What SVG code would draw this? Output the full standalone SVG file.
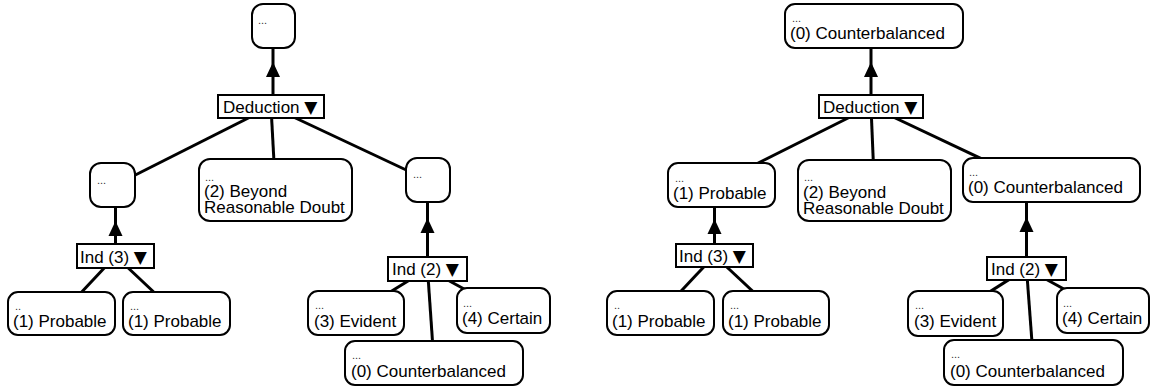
<svg xmlns="http://www.w3.org/2000/svg" xmlns:xlink="http://www.w3.org/1999/xlink" width="1150" height="387" viewBox="0 0 1150 387">
  <style>
    .edge { stroke: #000; stroke-width: 3; fill: none; }
    .node { fill: #fff; stroke: #000; stroke-width: 2; }
    .rule { fill: #fff; stroke: #000; stroke-width: 2; }
    .lbl { font-family: "Liberation Sans", Arial, sans-serif; font-size: 17px; fill: #000; }
    .dots { font-family: "Liberation Sans", Arial, sans-serif; font-size: 11px; fill: #333; }
    .tri { font-family: "DejaVu Sans", sans-serif; font-size: 17px; }
  </style>
  <defs>
    <!-- upward arrowhead, tip at origin -->
    <path id="ah" d="M0,0 L7,15 L-7,15 Z" fill="#000"/>
  </defs>
  <rect width="1150" height="387" fill="#fff"/>

  <!-- connectors -->
  <g id="connectors">
    <!-- left tree -->
    <line class="edge" x1="273" y1="48" x2="273" y2="95"/>
    <use xlink:href="#ah" x="273" y="62"/>
    <line class="edge" x1="271" y1="106.5" x2="115.5" y2="185"/>
    <line class="edge" x1="271" y1="106.5" x2="275.5" y2="190"/>
    <line class="edge" x1="271" y1="106.5" x2="427.5" y2="180"/>
    <line class="edge" x1="115.5" y1="207" x2="115.5" y2="244"/>
    <use xlink:href="#ah" x="115.5" y="221"/>
    <line class="edge" x1="115.5" y1="256" x2="61.5" y2="313.5"/>
    <line class="edge" x1="115.5" y1="256" x2="176.5" y2="313.5"/>
    <line class="edge" x1="427.5" y1="202" x2="427.5" y2="257"/>
    <use xlink:href="#ah" x="427.5" y="218"/>
    <line class="edge" x1="427.5" y1="269" x2="356" y2="313"/>
    <line class="edge" x1="427.5" y1="269" x2="434" y2="363"/>
    <line class="edge" x1="427.5" y1="269" x2="503.5" y2="310.5"/>
    <!-- right tree -->
    <line class="edge" x1="871" y1="48" x2="871" y2="95"/>
    <use xlink:href="#ah" x="871" y="62"/>
    <line class="edge" x1="871" y1="106.5" x2="714.5" y2="185"/>
    <line class="edge" x1="871" y1="106.5" x2="874.5" y2="190.5"/>
    <line class="edge" x1="871" y1="106.5" x2="1026.5" y2="180"/>
    <line class="edge" x1="714.5" y1="207" x2="714.5" y2="244"/>
    <use xlink:href="#ah" x="714.5" y="219"/>
    <line class="edge" x1="714.5" y1="255.5" x2="660.5" y2="313"/>
    <line class="edge" x1="714.5" y1="255.5" x2="776" y2="313"/>
    <line class="edge" x1="1026.5" y1="202" x2="1026.5" y2="257"/>
    <use xlink:href="#ah" x="1026.5" y="217"/>
    <line class="edge" x1="1026.5" y1="268.5" x2="955.5" y2="313.5"/>
    <line class="edge" x1="1026.5" y1="268.5" x2="1033.5" y2="362.5"/>
    <line class="edge" x1="1026.5" y1="268.5" x2="1103" y2="310.5"/>
  </g>

  <!-- left tree nodes -->
  <g id="l-root">
    <rect class="node" x="252" y="4" width="43" height="44" rx="11"/>
    <text class="dots" x="258" y="24">...</text>
  </g>
  <g id="l-deduction">
    <rect class="rule" x="218" y="95" width="106" height="23"/>
    <text class="lbl" x="223" y="113">Deduction <tspan class="tri">▼</tspan></text>
  </g>
  <g id="l-left">
    <rect class="node" x="90" y="163" width="45" height="44" rx="11"/>
    <text class="dots" x="97" y="184">...</text>
  </g>
  <g id="l-beyond">
    <rect class="node" x="199" y="159" width="153" height="62" rx="11"/>
    <text class="dots" x="205" y="181">...</text>
    <text class="lbl" x="204" y="197">(2) Beyond<tspan x="204" dy="16">Reasonable Doubt</tspan></text>
  </g>
  <g id="l-right">
    <rect class="node" x="406" y="158" width="44" height="44" rx="11"/>
    <text class="dots" x="413" y="178">...</text>
  </g>
  <g id="l-ind3">
    <rect class="rule" x="77" y="244" width="77" height="24"/>
    <text class="lbl" x="80" y="263">Ind (3) <tspan class="tri">▼</tspan></text>
  </g>
  <g id="l-prob1">
    <rect class="node" x="8" y="292" width="107" height="43" rx="10"/>
    <text class="dots" x="15" y="310">..</text>
    <text class="lbl" x="13" y="327">(1) Probable</text>
  </g>
  <g id="l-prob2">
    <rect class="node" x="123" y="292" width="107" height="43" rx="10"/>
    <text class="dots" x="130" y="310">...</text>
    <text class="lbl" x="128" y="327">(1) Probable</text>
  </g>
  <g id="l-ind2">
    <rect class="rule" x="388" y="257" width="79" height="24"/>
    <text class="lbl" x="392" y="275">Ind (2) <tspan class="tri">▼</tspan></text>
  </g>
  <g id="l-evident">
    <rect class="node" x="308" y="291" width="96" height="44" rx="10"/>
    <text class="dots" x="315" y="309">...</text>
    <text class="lbl" x="314" y="327">(3) Evident</text>
  </g>
  <g id="l-certain">
    <rect class="node" x="457" y="288" width="93" height="45" rx="10"/>
    <text class="dots" x="463" y="307">...</text>
    <text class="lbl" x="462" y="324">(4) Certain</text>
  </g>
  <g id="l-counter">
    <rect class="node" x="345" y="341" width="178" height="44" rx="10"/>
    <text class="dots" x="352" y="359">...</text>
    <text class="lbl" x="351" y="377">(0) Counterbalanced</text>
  </g>

  <!-- right tree nodes -->
  <g id="r-root">
    <rect class="node" x="785" y="4" width="178" height="44" rx="10"/>
    <text class="dots" x="792" y="22">...</text>
    <text class="lbl" x="790" y="39">(0) Counterbalanced</text>
  </g>
  <g id="r-deduction">
    <rect class="rule" x="819" y="95" width="104" height="23"/>
    <text class="lbl" x="823" y="113">Deduction <tspan class="tri">▼</tspan></text>
  </g>
  <g id="r-left">
    <rect class="node" x="668" y="163" width="107" height="44" rx="10"/>
    <text class="dots" x="675" y="182">...</text>
    <text class="lbl" x="673" y="199">(1) Probable</text>
  </g>
  <g id="r-beyond">
    <rect class="node" x="798" y="160" width="153" height="61" rx="11"/>
    <text class="dots" x="804" y="181">...</text>
    <text class="lbl" x="803" y="198">(2) Beyond<tspan x="803" dy="16">Reasonable Doubt</tspan></text>
  </g>
  <g id="r-right">
    <rect class="node" x="963" y="158" width="177" height="44" rx="10"/>
    <text class="dots" x="969" y="176">...</text>
    <text class="lbl" x="968" y="193">(0) Counterbalanced</text>
  </g>
  <g id="r-ind3">
    <rect class="rule" x="676" y="244" width="77" height="23"/>
    <text class="lbl" x="679" y="262">Ind (3) <tspan class="tri">▼</tspan></text>
  </g>
  <g id="r-prob1">
    <rect class="node" x="607" y="291" width="107" height="44" rx="10"/>
    <text class="dots" x="614" y="309">..</text>
    <text class="lbl" x="612" y="327">(1) Probable</text>
  </g>
  <g id="r-prob2">
    <rect class="node" x="723" y="291" width="106" height="44" rx="10"/>
    <text class="dots" x="730" y="309">...</text>
    <text class="lbl" x="728" y="327">(1) Probable</text>
  </g>
  <g id="r-ind2">
    <rect class="rule" x="987" y="257" width="79" height="23"/>
    <text class="lbl" x="991" y="275">Ind (2) <tspan class="tri">▼</tspan></text>
  </g>
  <g id="r-evident">
    <rect class="node" x="908" y="291" width="95" height="45" rx="10"/>
    <text class="dots" x="915" y="309">...</text>
    <text class="lbl" x="914" y="327">(3) Evident</text>
  </g>
  <g id="r-certain">
    <rect class="node" x="1057" y="288" width="92" height="45" rx="10"/>
    <text class="dots" x="1063" y="307">...</text>
    <text class="lbl" x="1062" y="324">(4) Certain</text>
  </g>
  <g id="r-counter">
    <rect class="node" x="944" y="340" width="179" height="45" rx="10"/>
    <text class="dots" x="951" y="358">...</text>
    <text class="lbl" x="950" y="377">(0) Counterbalanced</text>
  </g>
</svg>
